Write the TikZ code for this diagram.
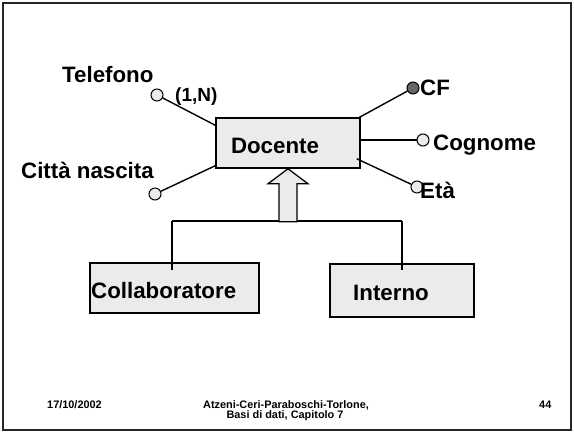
\documentclass[tikz,border=0pt]{standalone}
\usepackage{fontspec}
\setmainfont{Liberation Sans}
\usetikzlibrary{calc}
\definecolor{boxfill}{HTML}{EBEBEB}
\definecolor{keyfill}{HTML}{666666}
\begin{document}
\begin{tikzpicture}[x=1pt,y=-1pt,
  entity/.style={draw, line width=1.5pt, fill=boxfill, rectangle, inner sep=0pt},
  attr/.style={draw, line width=1pt, fill=boxfill, circle, minimum size=12pt, inner sep=0pt},
  keyattr/.style={attr, fill=keyfill},
  conn/.style={line width=1.4pt},
  big/.style={font=\bfseries\fontsize{22.3}{25}\selectfont, inner sep=0pt},
  card/.style={font=\bfseries\fontsize{19}{22}\selectfont, inner sep=0pt},
  foot/.style={font=\bfseries\fontsize{10.9}{12}\selectfont, inner sep=0pt}]
\useasboundingbox (0,0) rectangle (574,432);
\fill[white] (0,0) rectangle (574,432);
\draw[line width=2pt, black!85] (3,3) rectangle (571,430);

% entities
\node[entity, minimum width=144pt, minimum height=50pt] (doc) at (288,143) {};
\node[entity, minimum width=169pt, minimum height=50pt] (coll) at (174.5,288) {};
\node[entity, minimum width=144pt, minimum height=53pt] (int) at (402,290.5) {};

% attribute circles
\node[attr] (tel) at (157,95) {};
\node[attr] (cit) at (155,194) {};
\node[keyattr] (cf) at (413,88) {};
\node[attr] (cog) at (423,140) {};
\node[attr] (eta) at (417,187) {};

% attribute connectors
\draw[conn] (tel) -- ($(doc.north west)+(0,8)$);
\draw[conn] (cit) -- ($(doc.south west)+(0,-3)$);
\draw[conn] (cf) -- ($(doc.north east)+(-3,1)$);
\draw[conn] (cog) -- ($(doc.east)+(0,-3)$);
\draw[conn] (eta) -- ($(doc.south east)+(-4,-10)$);

% generalization
\coordinate (hl) at (172,221);
\coordinate (hr) at (402,221);
\coordinate (cl) at (172,270);
\coordinate (cr) at (402,270);
\draw[conn] (hl) -- (hr);
\draw[conn] (hl) -- (cl);
\draw[conn] (hr) -- (cr);
\draw[line width=1.3pt, fill=boxfill, line join=miter]
  (doc.south) -- ++(20,15) -- ++(-11,0) -- ++(0,38) -- ++(-18,0) -- ++(0,-38) -- ++(-11,0) -- cycle;

% labels
\node[big, anchor=base] (tdoc) at (275,153) {Docente};
\node[big, anchor=base west] (tcoll) at (91,298) {Collaboratore};
\node[big, anchor=base west] (tint) at (353,300) {Interno};
\node[big, anchor=base west] (ttel) at (62,82) {Telefono};
\node[card, anchor=base west] (tcard) at (175,101) {(1,N)};
\node[big, anchor=base west] (tcit) at (21,178) {Città nascita};
\node[big, anchor=base west] (tcf) at (420,95) {CF};
\node[big, anchor=base west] (tcog) at (433,150) {Cognome};
\node[big, anchor=base west] (teta) at (420,198) {Età};

% footer
\node[foot, anchor=base west] (fdate) at (47,408) {17/10/2002};
\node[foot, anchor=base] (fauth) at (286,408) {Atzeni-Ceri-Paraboschi-Torlone,};
\node[foot, anchor=base] (fbook) at (285,418) {Basi di dati, Capitolo 7};
\node[foot, anchor=base west] (fpage) at (539,408) {44};
\end{tikzpicture}
\end{document}
